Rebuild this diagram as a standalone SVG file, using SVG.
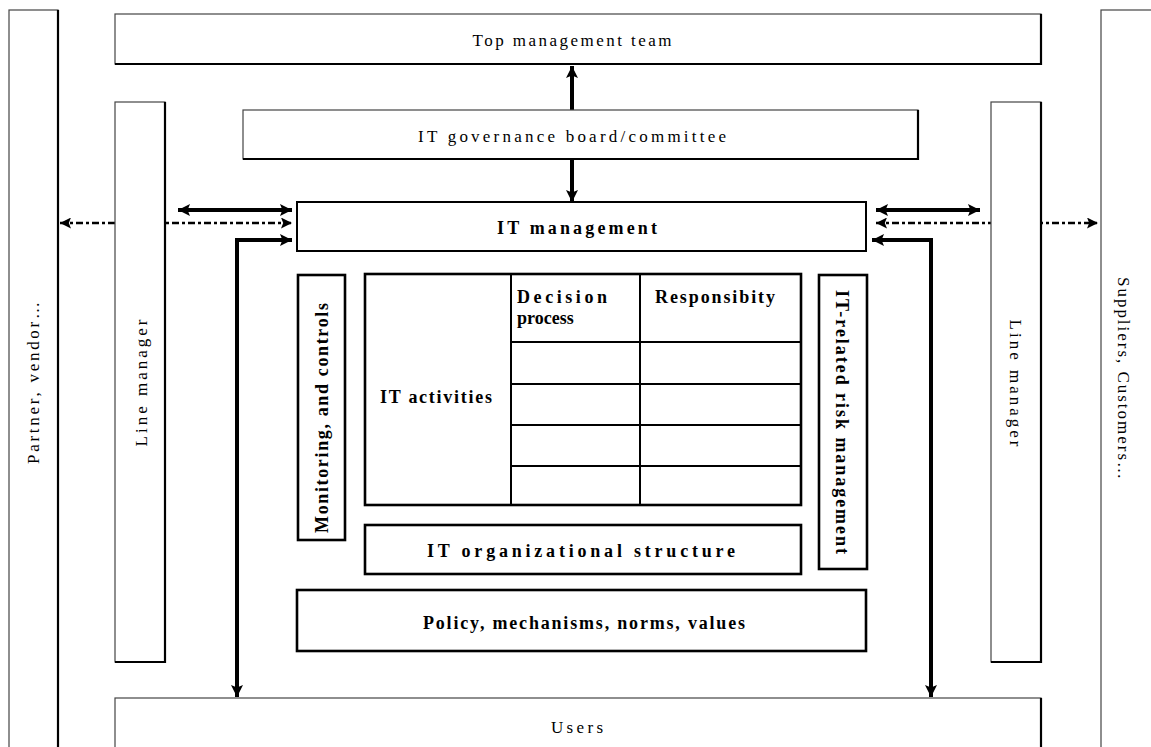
<svg xmlns="http://www.w3.org/2000/svg" width="1151" height="747" viewBox="0 0 1151 747">
<style>
.ob{fill:#fff;stroke:#444;stroke-width:1.2}
.sh{fill:none;stroke:#000;stroke-width:2.2}
.ib{fill:#fff;stroke:#000;stroke-width:2.6}
.tl{fill:none;stroke:#000;stroke-width:2}
.t{font-family:"Liberation Serif","Times New Roman",serif;font-size:17px;fill:#000}
.b{font-family:"Liberation Serif","Times New Roman",serif;font-size:18px;font-weight:bold;fill:#000}
.sol{fill:none;stroke:#000;stroke-width:4}
.das{fill:none;stroke:#000;stroke-width:2.6;stroke-dasharray:7 3 3 3}
</style>
<defs>
<marker id="ah" viewBox="0 0 10 10" refX="10" refY="5" markerWidth="12" markerHeight="12" markerUnits="userSpaceOnUse" orient="auto-start-reverse">
<path d="M0,0 L10,5 L0,10 L2,5 Z" fill="#000"/>
</marker>
<marker id="ad" viewBox="0 0 10 10" refX="10" refY="5" markerWidth="11" markerHeight="11" markerUnits="userSpaceOnUse" orient="auto-start-reverse">
<path d="M0,0 L10,5 L0,10 L2,5 Z" fill="#000"/>
</marker>
</defs>
<rect width="1151" height="747" fill="#fff"/>

<g id="connectors">
<line class="das" x1="60" y1="223" x2="292" y2="223" marker-start="url(#ad)" marker-end="url(#ad)"/>
<line class="das" x1="876" y1="223" x2="1098" y2="223" marker-start="url(#ad)" marker-end="url(#ad)"/>
<line class="sol" x1="178" y1="210" x2="292" y2="210" marker-start="url(#ah)" marker-end="url(#ah)"/>
<line class="sol" x1="876" y1="210" x2="980" y2="210" marker-start="url(#ah)" marker-end="url(#ah)"/>
<polyline class="sol" points="237,697 237,240 292,240" marker-start="url(#ah)" marker-end="url(#ah)"/>
<polyline class="sol" points="931,697 931,240 872,240" marker-start="url(#ah)" marker-end="url(#ah)"/>
<line class="sol" x1="572" y1="110" x2="572" y2="66" marker-end="url(#ah)"/>
<line class="sol" x1="572" y1="160" x2="572" y2="202" marker-end="url(#ah)"/>
</g>

<g id="partner">
<rect class="ob" x="9" y="10" width="49" height="760"/>
<polyline class="sh" points="58,10 58,770"/>
<text class="t" transform="translate(39,383) rotate(-90)" text-anchor="middle" textLength="162" lengthAdjust="spacing">Partner, vendor…</text>
</g>

<g id="suppliers">
<rect class="ob" x="1101" y="10" width="60" height="760"/>
<text class="t" transform="translate(1118,378) rotate(90)" text-anchor="middle" textLength="202" lengthAdjust="spacing">Suppliers, Customers…</text>
</g>

<g id="top-management">
<rect class="ob" x="115" y="14" width="926" height="50"/>
<polyline class="sh" points="1041,14 1041,64 115,64"/>
<text class="t" x="572" y="46" text-anchor="middle" textLength="199" lengthAdjust="spacing">Top management team</text>
</g>

<g id="line-manager-left">
<rect class="ob" x="115" y="102" width="50" height="560"/>
<polyline class="sh" points="165,102 165,662 115,662"/>
<text class="t" transform="translate(147,383) rotate(-90)" text-anchor="middle" textLength="127" lengthAdjust="spacing">Line manager</text>
</g>

<g id="line-manager-right">
<rect class="ob" x="991" y="102" width="50" height="560"/>
<polyline class="sh" points="1041,102 1041,662 991,662"/>
<text class="t" transform="translate(1010,383) rotate(90)" text-anchor="middle" textLength="127" lengthAdjust="spacing">Line manager</text>
</g>

<g id="governance">
<rect class="ob" x="243" y="110" width="675" height="49"/>
<polyline class="sh" points="918,110 918,159 243,159"/>
<text class="t" x="572" y="142" text-anchor="middle" textLength="308" lengthAdjust="spacing">IT governance board/committee</text>
</g>

<g id="it-management">
<rect x="297" y="202" width="569" height="49" fill="#fff" stroke="#000" stroke-width="2"/>
<text class="b" x="577" y="234" text-anchor="middle" textLength="160" lengthAdjust="spacing">IT management</text>
</g>

<g id="monitoring">
<rect class="ib" x="298" y="275" width="47" height="265"/>
<text class="b" transform="translate(328,418) rotate(-90)" text-anchor="middle" textLength="230" lengthAdjust="spacing">Monitoring, and controls</text>
</g>

<g id="it-activities">
<rect class="ib" x="365" y="274" width="436" height="231"/>
<line class="tl" x1="511" y1="274" x2="511" y2="505"/>
<line class="tl" x1="640" y1="274" x2="640" y2="505"/>
<line class="tl" x1="511" y1="342" x2="801" y2="342"/>
<line class="tl" x1="511" y1="384" x2="801" y2="384"/>
<line class="tl" x1="511" y1="425" x2="801" y2="425"/>
<line class="tl" x1="511" y1="466" x2="801" y2="466"/>
<text class="b" x="380" y="403" textLength="112" lengthAdjust="spacing">IT activities</text>
<text class="b" x="517" y="303" textLength="90" lengthAdjust="spacing">Decision</text>
<text class="b" x="517" y="324">process</text>
<text class="b" x="655" y="303" textLength="120" lengthAdjust="spacing">Responsibity</text>
</g>

<g id="risk-management">
<rect class="ib" x="819" y="275" width="48" height="294"/>
<text class="b" transform="translate(836,422) rotate(90)" text-anchor="middle" textLength="264" lengthAdjust="spacing">IT-related risk management</text>
</g>

<g id="org-structure">
<rect class="ib" x="365" y="525" width="436" height="49"/>
<text class="b" x="581" y="557" text-anchor="middle" textLength="308" lengthAdjust="spacing">IT organizational structure</text>
</g>

<g id="policy">
<rect class="ib" x="297" y="590" width="569" height="61"/>
<text class="b" x="584" y="629" text-anchor="middle" textLength="322" lengthAdjust="spacing">Policy, mechanisms, norms, values</text>
</g>

<g id="users">
<rect class="ob" x="115" y="698" width="926" height="70"/>
<polyline class="sh" points="1041,698 1041,768"/>
<text class="t" x="577" y="733" text-anchor="middle" textLength="52" lengthAdjust="spacing">Users</text>
</g>
</svg>
